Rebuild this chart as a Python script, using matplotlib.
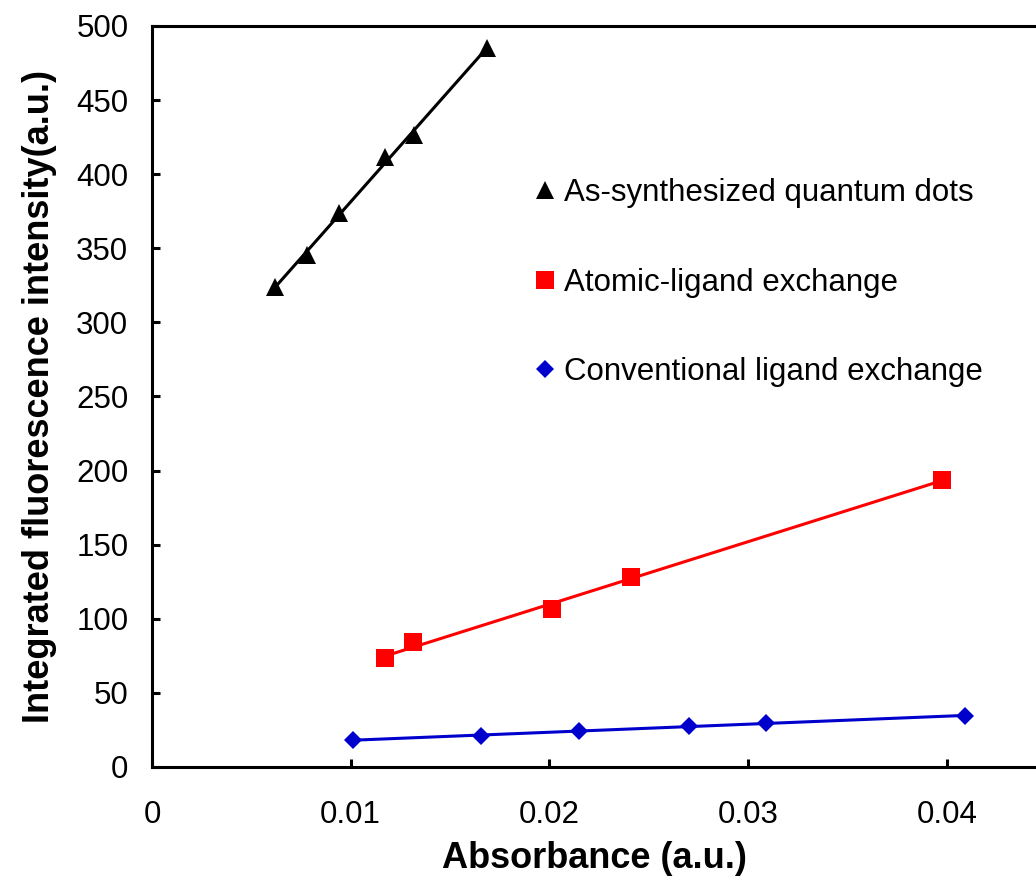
import matplotlib
matplotlib.use('Agg')
import matplotlib.pyplot as plt
import numpy as np

# Data
as_synth_x = [0.00619, 0.00780, 0.00941, 0.01173, 0.01319, 0.01686]
as_synth_y = [323.9, 345.5, 373.8, 411.6, 426.5, 485.2]

atomic_x = [0.01173, 0.01314, 0.02013, 0.02411, 0.03976]
atomic_y = [73.5, 84.3, 106.6, 128.2, 193.7]

conv_x = [0.01012, 0.01656, 0.02149, 0.02703, 0.03090, 0.04092]
conv_y = [18.2, 20.9, 24.3, 27.7, 29.7, 34.4]

labels = ['As-synthesized quantum dots', 'Atomic-ligand exchange', 'Conventional ligand exchange']

plt.rcParams['font.family'] = ['Liberation Sans', 'DejaVu Sans']

fig = plt.figure(figsize=(10.36, 8.84), dpi=100)
ax = fig.add_axes([0.1467, 0.1324, 0.8533, 0.8382])

series = [
    (as_synth_x, as_synth_y, 'black', '^', 12.7),
    (atomic_x, atomic_y, '#FF0000', 's', 13),
    (conv_x, conv_y, '#0000CC', 'D', 9.3),
]

for (x, y, color, marker, ms), label in zip(series, labels):
    x = np.array(x)
    y = np.array(y)
    # linear trendline across the data range
    k, b = np.polyfit(x, y, 1)
    xs = np.array([x.min(), x.max()])
    ax.plot(xs, k * xs + b, color=color, lw=2.2, zorder=2)
    ax.plot(x, y, linestyle='none', marker=marker, ms=ms, color=color,
            markeredgewidth=0, label=label, zorder=3)

ax.set_xlim(0, 0.04449)
ax.set_ylim(0, 500)
ax.set_xticks([0, 0.01, 0.02, 0.03, 0.04])
ax.set_xticklabels(['0', '0.01', '0.02', '0.03', '0.04'])
ax.set_yticks(range(0, 501, 50))

ax.spines['right'].set_visible(False)
for s in ['left', 'bottom', 'top']:
    ax.spines[s].set_linewidth(2.2)
ax.tick_params(axis='both', direction='in', length=6, width=2.2, labelsize=22.5)
ax.tick_params(axis='y', pad=17)
ax.tick_params(axis='x', pad=24)

ax.set_xlabel('Absorbance (a.u.)', fontsize=26, fontweight='bold', labelpad=8)
ax.set_ylabel('Integrated fluorescence intensity(a.u.)', fontsize=26, fontweight='bold', labelpad=14)

ax.legend(loc='upper left', bbox_to_anchor=(0.434, 0.795), frameon=False,
          fontsize=22.5, handlelength=0.6, handletextpad=0.3, labelspacing=1.91,
          borderaxespad=0, borderpad=0)

fig.savefig('out.png', dpi=100)
